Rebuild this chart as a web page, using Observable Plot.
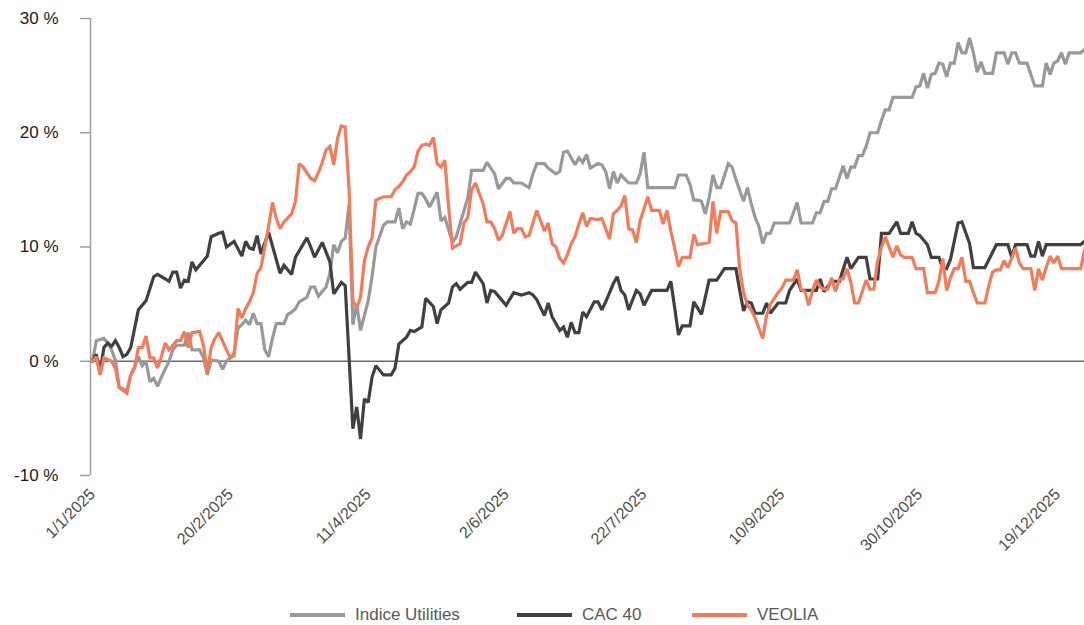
<!DOCTYPE html>
<html>
<head>
<meta charset="utf-8">
<script src="https://cdn.jsdelivr.net/npm/d3@7"></script>
<script src="https://cdn.jsdelivr.net/npm/@observablehq/plot@0.6"></script>
<style>
  html, body { margin: 0; padding: 0; background: #fff; }
  #wrap { position: relative; width: 1084px; height: 625px; font-family: "Liberation Sans", Arial, sans-serif; }
  #legend { position: absolute; top: 603px; left: 0; width: 1084px; height: 24px; }
  .item { position: absolute; top: 0; display: flex; align-items: center; height: 24px; font-size: 17px; color: #595959; }
  .sw { width: 55px; height: 4px; margin-right: 10px; }
</style>
</head>
<body>
<div id="wrap">
  <div id="chart"></div>
  <div id="legend"></div>
</div>
<script>
// Trading sessions (weekdays from 1/1/2025), one label every 36 sessions
const tickSessions = [0, 36, 72, 108, 144, 180, 216, 252];
const tickLabels = ["1/1/2025", "20/2/2025", "11/4/2025", "2/6/2025", "22/7/2025", "10/9/2025", "30/10/2025", "19/12/2025"];
const yTicks = [-10, 0, 10, 20, 30];

const seriesNames = ["Indice Utilities", "CAC 40", "VEOLIA"];
const seriesColors = ["#999999", "#404040", "#F47B5A"];

// Indice Utilities (performance %, by session)
const utilSessions = [0,1,2,3,4,5,6,7,8,9,10,11,12,13,14,15,16,17,18,20,21,22,24,25,26,28,29,30,31,33,34,35,36,37,38,39,40,41,42,43,44,45,46,47,48,50,51,52,53,54,56,57,58,59,61,62,63,64,65,66,67,68,69,70,72,73,74,76,77,79,80,81,82,83,84,85,86,87,88,90,91,92,93,94,95,97,98,99,102,103,105,106,108,109,110,112,114,115,116,118,119,121,122,123,124,126,127,128,129,130,132,133,134,135,136,137,138,140,142,143,144,145,152,153,155,156,157,158,159,160,161,162,163,164,166,167,168,170,171,172,173,174,175,176,177,178,182,184,185,188,189,190,191,192,193,194,195,196,197,198,199,200,201,202,203,205,206,207,208,209,214,215,216,217,218,219,220,221,222,223,224,225,226,227,228,229,230,231,232,233,235,236,238,239,240,241,242,244,246,248,249,250,251,252,253,254,255,258,259];
const utilValues = [0,1.8,1.9,2.0,1.6,1.0,0.1,-2.3,-2.4,-2.6,-1.2,-0.5,0.4,-0.4,0,-1.8,-1.5,-2.2,-1.4,0,1.0,1.4,1.4,2.5,1.0,1.0,0.3,-1.2,0.1,0,-0.7,0,0.3,0.7,2.9,3.2,3.6,3.2,4.2,3.3,3.3,1.0,0.4,2.0,3.3,3.3,4.1,4.3,4.6,5.2,5.6,6.5,6.5,5.7,6.5,7.7,10.2,9.5,10.5,10.8,13.7,3.2,5.0,2.7,5.3,7.4,10.0,11.9,12.2,12.2,13.4,11.6,12.2,12.0,13.3,14.7,14.7,14.2,13.5,14.8,12.3,12.6,11.5,10.4,10.9,13.2,14.3,16.7,16.7,17.4,16.4,15.1,16.0,16.0,15.6,15.6,15.2,16.4,17.3,17.3,16.9,16.4,16.6,18.3,18.4,17.2,17.8,17.4,18.1,16.9,17.3,17.2,16.6,15.1,16.6,15.6,16.3,15.6,15.6,16.4,18.3,15.2,15.2,16.3,16.3,15.5,14.1,14.1,14.0,12.9,14.3,16.3,15.2,15.2,17.3,17.0,15.9,14.0,15.2,13.8,12.6,11.8,10.3,11.2,11.2,12.1,12.1,13.9,12.1,12.1,13.0,13.0,14.0,14.0,15.1,15.1,16.1,17.1,16.0,17.0,17.0,18.0,18.0,18.8,20.0,20.0,21.1,22.0,22.0,23.1,23.1,24.0,24.1,25.2,23.9,25.1,25.2,26.1,26.0,24.9,26.1,26.1,27.9,27.0,27.0,28.3,27.0,25.3,26.2,25.2,25.2,27.0,27.0,26.0,27.0,27.0,26.1,26.1,24.1,24.1,26.1,25.1,26.1,26.3,27.0,26.0,27.0,27.0,27.3];

// CAC 40
const cacSessions = [0,1,2,3,4,5,6,7,8,9,10,12,14,16,17,19,20,21,22,23,24,25,26,27,29,30,31,33,34,35,37,39,40,41,42,43,44,46,49,50,52,53,56,57,58,60,62,63,65,66,68,69,70,71,72,73,74,76,78,79,80,82,83,84,86,87,89,90,91,93,94,95,96,98,99,100,101,102,103,104,105,106,108,110,112,114,115,116,118,119,120,122,123,124,125,126,127,128,129,131,132,133,134,136,137,138,139,140,142,143,144,146,150,151,152,153,154,156,157,159,161,163,165,168,169,170,171,172,173,175,176,177,179,181,182,184,185,189,190,191,193,195,197,198,200,202,203,205,206,208,210,211,213,214,215,216,218,219,221,222,223,224,226,227,229,230,233,236,239,240,241,244,245,246,247,248,249,258,259];
const cacValues = [0,0.6,-1.0,1.2,1.6,1.3,1.8,1.2,0.4,0.6,1.2,4.5,5.3,7.4,7.6,7.2,7.0,7.8,7.8,6.4,7.1,7.0,8.7,8.0,8.8,9.2,10.9,11.2,11.3,10.0,10.5,9.2,10.5,9.9,9.8,11.0,9.4,11.3,7.7,8.4,7.6,9.1,10.8,10.0,9.1,10.4,8.7,5.9,6.9,6.6,-5.9,-4.0,-6.8,-3.3,-3.6,-1.4,-0.4,-1.2,-1.2,-0.6,1.5,2.1,2.7,2.6,3.0,5.5,4.8,3.3,4.5,5.1,6.5,6.8,6.3,6.9,6.9,7.8,7.3,6.8,5.1,6.2,6.1,5.7,4.9,6.0,5.8,6.0,5.8,5.4,4.0,5.1,3.9,2.7,3.0,2.1,3.4,2.5,2.5,4.3,3.9,5.2,5.2,4.5,5.2,6.8,7.4,6.2,5.8,4.5,6.2,5.9,4.9,6.2,6.2,7.0,4.7,2.3,3.1,3.1,5.2,4.1,7.1,7.1,8.1,8.1,6.2,4.4,5.2,5.1,4.2,4.2,5.1,4.2,5.1,5.1,6.2,7.2,6.2,6.2,7.2,6.1,7.0,7.0,9.1,8.1,9.1,9.1,7.2,7.2,11.2,11.2,12.2,11.2,11.2,12.2,11.2,11.0,10.2,9.1,9.1,8.1,8.1,8.9,12.1,12.2,10.3,8.2,8.2,10.2,10.2,9.1,10.2,10.2,9.2,9.2,10.5,9.2,10.2,10.2,10.5];

// VEOLIA
const veoSessions = [0,1,2,3,5,6,7,9,10,11,12,13,14,15,16,17,18,19,20,22,23,24,25,26,28,29,30,31,32,33,35,36,37,38,39,40,41,42,43,44,45,46,47,48,49,50,52,53,54,55,57,58,59,60,61,62,63,64,65,66,67,68,69,70,71,72,73,74,76,78,79,80,81,82,83,84,85,86,87,88,89,90,91,92,93,94,95,96,97,98,99,100,102,103,104,105,106,107,109,110,111,112,113,114,116,117,118,119,120,121,122,123,124,125,126,127,128,129,130,132,133,135,136,137,138,139,140,141,142,143,145,146,148,149,150,151,152,153,154,156,157,158,161,162,163,164,166,167,168,169,170,171,172,173,175,176,177,179,180,181,183,184,185,186,187,188,189,190,191,192,193,194,195,196,197,198,199,200,202,203,204,205,206,207,209,210,211,212,214,215,217,218,220,221,222,223,224,225,226,227,228,229,230,231,233,234,235,236,237,238,239,241,242,243,245,246,247,248,249,250,251,252,253,258,259];
const veoValues = [0,0.4,-1.2,0.3,0,-0.6,-2.3,-2.8,-1.2,-0.6,1.2,1.2,2.2,0.3,0.3,-0.6,0.4,1.6,1.0,1.8,1.8,2.6,1.2,2.5,2.6,1.4,-1.0,1.2,2.0,2.5,1.0,0.3,0.5,4.6,3.8,4.6,5.2,6.0,7.7,8.2,10.0,11.8,13.9,12.5,11.6,12.2,12.9,14.0,17.3,17.0,16.0,15.8,16.5,17.4,18.5,18.8,17.2,19.5,20.6,20.5,15.0,5.3,4.7,5.6,8.8,10.0,10.8,14.1,14.4,14.4,15.0,15.3,15.7,16.3,16.6,17.0,18.4,18.9,19.0,18.9,19.6,17.3,17.0,17.6,13.5,9.9,10.1,10.3,12.1,12.6,15.0,15.6,13.8,12.2,12.2,11.6,10.6,11.0,13.1,11.2,11.6,11.6,10.9,11.0,13.2,12.3,11.4,12.1,10.3,10.0,9.0,8.6,9.3,10.3,10.9,12.0,13.0,11.8,12.5,12.4,12.5,10.7,12.9,13.2,13.6,14.5,11.6,11.5,10.4,12.3,14.4,13.2,13.2,12.0,13.2,11.4,9.9,8.3,9.1,9.1,11.1,10.2,10.4,14.0,11.2,13.1,13.1,12.3,12.1,8.0,6.0,4.9,4.5,3.8,2.0,4.0,5.0,6.0,6.4,7.1,7.1,8.0,6.3,6.1,4.9,6.2,7.1,6.5,6.3,6.3,7.3,6.1,7.2,7.2,8.1,6.9,5.1,5.1,7.1,6.3,6.3,8.8,10.0,10.9,9.1,10.1,9.3,9.1,9.1,8.1,8.1,6.0,6.0,7.0,9.0,6.2,7.3,8.1,8.1,9.1,7.0,7.0,6.0,5.1,5.1,6.6,7.8,8.0,8.0,8.8,8.2,9.9,8.6,8.1,8.1,6.2,8.1,7.1,8.2,9.2,8.6,9.2,8.1,8.1,9.7];

const rows = [];
const add = (name, s, v) => s.forEach((d, k) => rows.push({series: name, session: d, value: v[k]}));
add(seriesNames[0], utilSessions, utilValues);
add(seriesNames[1], cacSessions, cacValues);
add(seriesNames[2], veoSessions, veoValues);

const labelOf = new Map(tickSessions.map((s, k) => [s, tickLabels[k]]));

const chart = Plot.plot({
  width: 1084,
  height: 580,
  marginLeft: 90,
  marginRight: 0,
  marginTop: 18,
  marginBottom: 105,
  style: { fontFamily: "Liberation Sans, Arial, sans-serif", background: "#fff" },
  x: { domain: [-0.5, 259], axis: null },
  y: { domain: [-10, 30], axis: null },
  color: { domain: seriesNames, range: seriesColors },
  marks: [
    Plot.ruleY([0], { x1: -0.5, x2: 259, stroke: "#6b6b6b", strokeWidth: 1.5 }),
    Plot.line(rows, { x: "session", y: "value", z: "series", stroke: "series", strokeWidth: 3.2, strokeLinejoin: "miter", strokeMiterlimit: 2 }),
    Plot.ruleX([-0.5], { y1: -10, y2: 30, stroke: "#a0a0a0", strokeWidth: 1.5 }),
    Plot.axisY(yTicks, {
      anchor: "left", label: null, tickSize: 10, tickPadding: 22, stroke: "#a0a0a0", strokeWidth: 1.5,
      tickFormat: d => `${d} %`, fontSize: 17, fill: "#1a1a1a"
    }),
    Plot.axisX(tickSessions, {
      anchor: "bottom", label: null, tickSize: 0, tickPadding: 16, tickRotate: -45,
      tickFormat: d => labelOf.get(d), fontSize: 16, fill: "#4d4d4d"
    })
  ]
});
document.getElementById("chart").appendChild(chart);

const legend = document.getElementById("legend");
const lefts = [290, 517, 692];
seriesNames.forEach((n, k) => {
  const it = document.createElement("div");
  it.className = "item";
  it.style.left = lefts[k] + "px";
  const sw = document.createElement("span");
  sw.className = "sw";
  sw.style.background = seriesColors[k];
  const tx = document.createElement("span");
  tx.textContent = n;
  it.appendChild(sw); it.appendChild(tx);
  legend.appendChild(it);
});
</script>
</body>
</html>
